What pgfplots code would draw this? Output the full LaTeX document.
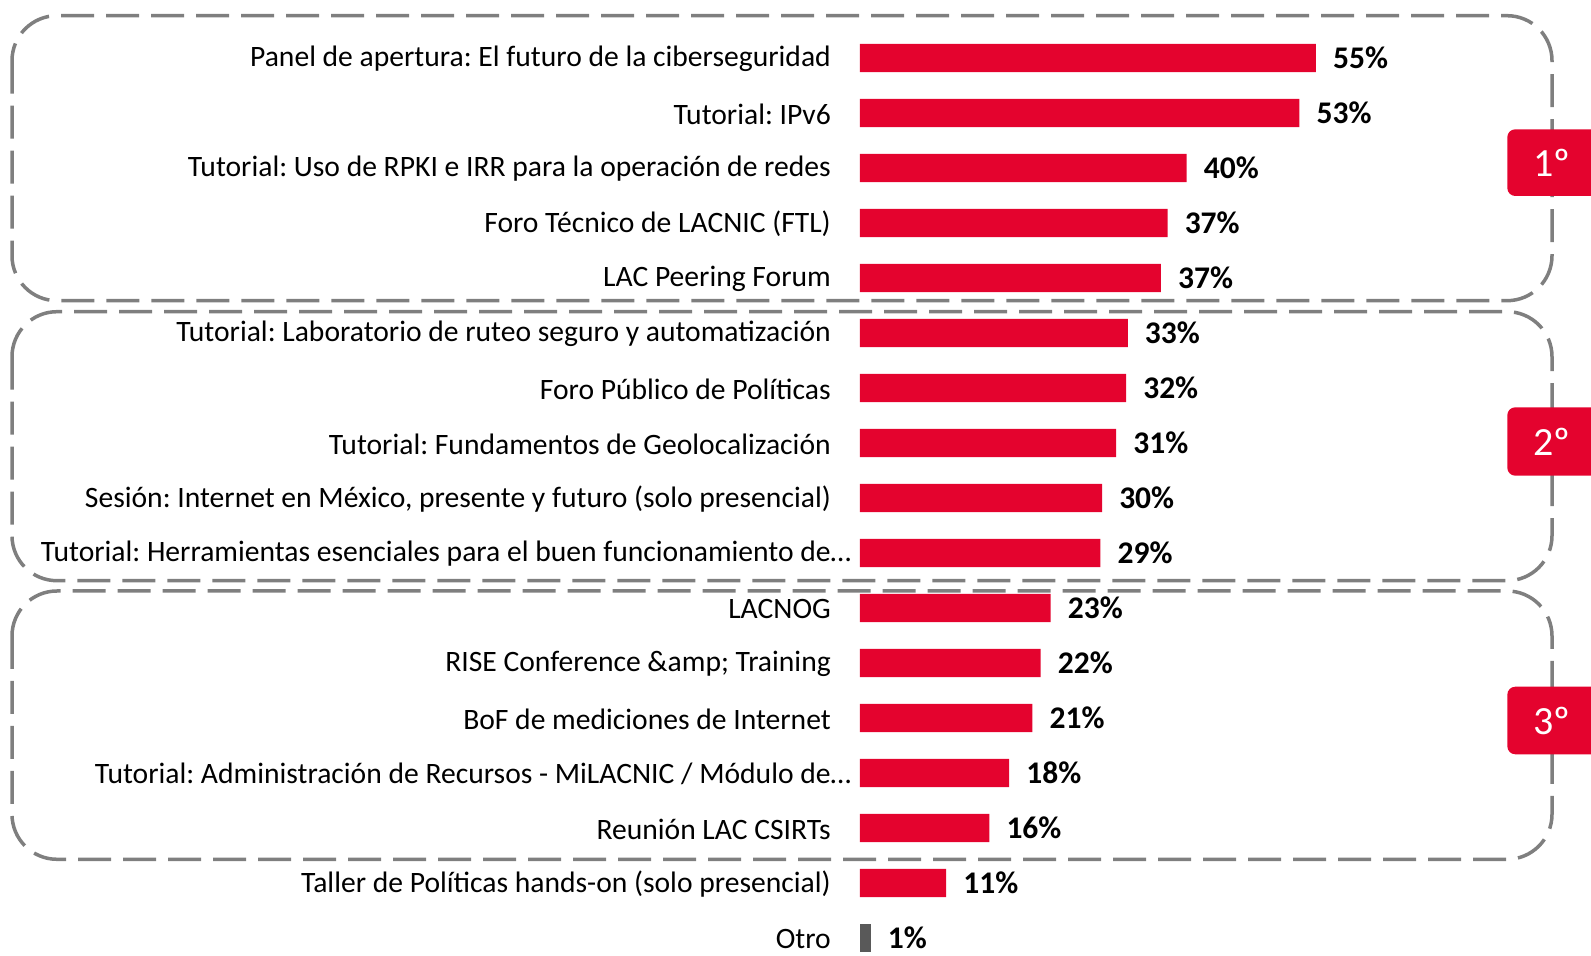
\documentclass[border=0pt]{standalone}
\usepackage{fontspec}
\setmainfont{Carlito}
\usepackage{pgfplots}
\pgfplotsset{compat=1.18}
\usepackage{pgfplotstable}
\definecolor{lacred}{HTML}{E4032E}
\definecolor{otrogray}{HTML}{595959}
\definecolor{boxgray}{HTML}{7F7F7F}
\frenchspacing

% bar lengths, lab = printed value
\pgfplotstableread{
i v lab
0 55.0 55
1 53.0 53
2 39.4 40
3 37.1 37
4 36.3 37
5 32.3 33
6 32.1 32
7 30.9 31
8 29.2 30
9 29.0 29
10 23.0 23
11 21.8 22
12 20.8 21
13 18.0 18
14 15.6 16
15 10.4 11
}\barsred
\pgfplotstableread{
i v lab
16 1.3 1
}\barsgray

\begin{document}
\begin{tikzpicture}
\useasboundingbox (0pt,0pt) rectangle (1591pt,956pt);
\begin{axis}[
  at={(860pt,-9.5pt)}, anchor=south west,
  scale only axis, width=497.4pt, height=935pt,
  xmin=0, xmax=60, ymin=-0.5, ymax=16.5, y dir=reverse,
  axis line style={draw=none}, tick style={draw=none},
  xtick=\empty, major tick length=0pt,
  ytick={0,...,16},
  yticklabels={
    Panel de apertura: El futuro de la ciberseguridad,
    Tutorial: IPv6,
    Tutorial: Uso de RPKI e IRR para la operación de redes,
    Foro Técnico de LACNIC (FTL),
    LAC Peering Forum,
    Tutorial: Laboratorio de ruteo seguro y automatización,
    Foro Público de Políticas,
    Tutorial: Fundamentos de Geolocalización,
    {Sesión: Internet en México, presente y futuro (solo presencial)},
    Tutorial: Herramientas esenciales para el buen funcionamiento de\rlap{…},
    LACNOG,
    RISE Conference \&amp; Training,
    BoF de mediciones de Internet,
    Tutorial: Administración de Recursos - MiLACNIC / Módulo de\rlap{…},
    Reunión LAC CSIRTs,
    Taller de Políticas hands-on (solo presencial),
    Otro},
  yticklabel style={font=\fontsize{29.6}{35}\selectfont, anchor=east, inner sep=0pt, xshift=-29pt, yshift=-1pt},
  xbar, bar width=28.3pt, bar shift=0pt,
  clip=false,
  point meta=explicit symbolic,
  nodes near coords={\pgfplotspointmeta\%},
  nodes near coords style={font=\bfseries\fontsize{31.5}{38}\selectfont, anchor=west, inner sep=0pt, xshift=17pt, text=black},
]
\addplot[fill=lacred, draw=none] table[x=v, y=i, meta=lab] {\barsred};
\addplot[fill=otrogray, draw=none] table[x=v, y=i, meta=lab] {\barsgray};
\end{axis}
\begin{scope}
\clip (0pt,0pt) rectangle (1591pt,956pt);
\begin{scope}[boxgray, line width=3.5pt, dash pattern=on 33pt off 12pt, rounded corners=45pt]
\draw (12pt,940.3pt) rectangle (1552pt,655.3pt);
\draw (12pt,644.3pt) rectangle (1552pt,375.3pt);
\draw (12pt,365pt) rectangle (1552pt,96.7pt);
\end{scope}
\begin{scope}[every node/.style={text=white, font=\fontsize{40}{48}\selectfont}]
\fill[lacred, rounded corners=8pt] (1507.3pt,826.7pt) rectangle (1620pt,760pt);
\node at (1552pt,793.3pt) {1º};
\fill[lacred, rounded corners=8pt] (1507.3pt,548.7pt) rectangle (1620pt,480.3pt);
\node at (1552pt,514.5pt) {2º};
\fill[lacred, rounded corners=8pt] (1507.3pt,269.3pt) rectangle (1620pt,201.7pt);
\node at (1552pt,235.5pt) {3º};
\end{scope}
\end{scope}
\end{tikzpicture}
\end{document}
